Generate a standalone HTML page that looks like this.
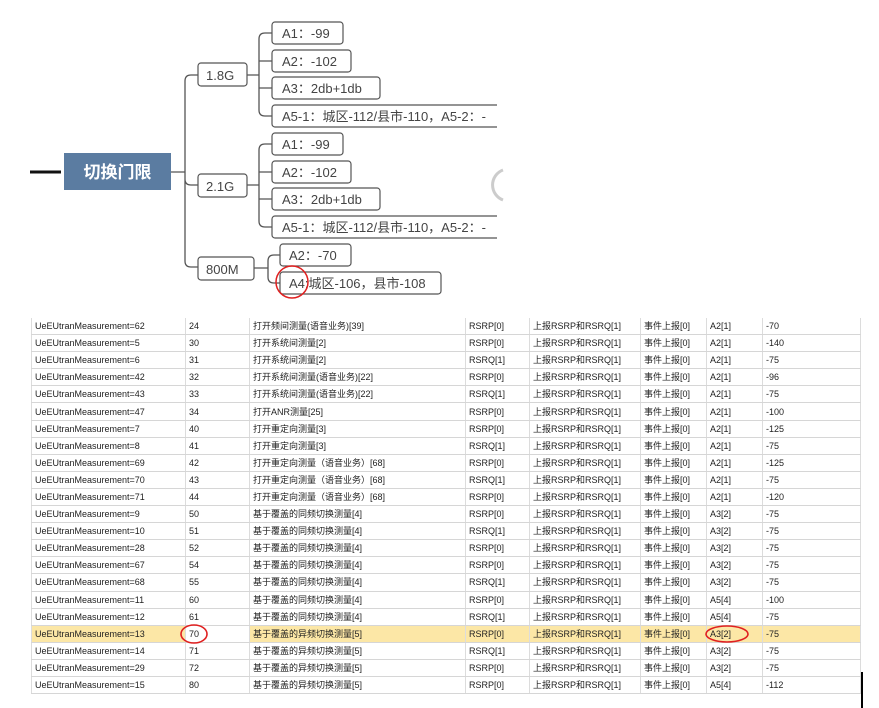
<!DOCTYPE html>
<html><head><meta charset="utf-8">
<style>
html,body{margin:0;padding:0;background:#fff;width:879px;height:708px;overflow:hidden;position:relative;font-family:"Liberation Sans","Noto Sans CJK SC",sans-serif;}
svg text{font-family:"Liberation Sans","Noto Sans CJK SC",sans-serif;}
table{position:absolute;left:31px;top:318px;border-collapse:collapse;table-layout:fixed;font-size:9px;color:#222;}
td{height:16.1px;padding:0 0 0 3px;border-right:1px solid #dcdcdc;border-bottom:1px solid #d6d6d6;white-space:nowrap;overflow:hidden;line-height:16px;}
tr.hl td{background:#fce7a6;}
td:first-child{border-left:1px solid #dcdcdc;}
</style></head><body>
<svg width="879" height="310" style="position:absolute;left:0;top:0">
<g fill="none" stroke="#555" stroke-width="1.3">
<line x1="30" y1="172" x2="61" y2="172" stroke="#111" stroke-width="3"/>
<path d="M171 172 H185 M185 81 Q185 75 191 75 H198 M185 81 V261 Q185 267 191 267 H198 M185 179 Q185 185 191 185 H198"/>
<path d="M247 75 H259 M259 39 Q259 33 265 33 H272 M259 39 V110 Q259 116 265 116 H272 M259 61 H272 M259 88 H272"/>
<path d="M247 185 H259 M259 150 Q259 144 265 144 H272 M259 150 V221 Q259 227 265 227 H272 M259 172 H272 M259 199 H272"/>
<path d="M254 268 H268 M268 261 Q268 255 274 255 H280 M268 261 V277 Q268 283 274 283 H280"/>
</g>
<rect x="64" y="153" width="107" height="37" fill="#5b7ca1"/>
<text x="117.5" y="178" fill="#fff" font-size="17" font-weight="bold" text-anchor="middle">切换门限</text>
<g fill="#fff" stroke="#555" stroke-width="1.2">
<rect x="198" y="63" width="49" height="23" rx="3"/>
<rect x="198" y="174" width="49" height="23" rx="3"/>
<rect x="198" y="257" width="56" height="23" rx="3"/>
<rect x="272" y="22" width="71" height="22" rx="3"/>
<rect x="272" y="50" width="79" height="22" rx="3"/>
<rect x="272" y="77" width="108" height="22" rx="3"/>
<rect x="272" y="105" width="240" height="22" rx="3"/>
<rect x="272" y="133" width="71" height="22" rx="3"/>
<rect x="272" y="161" width="79" height="22" rx="3"/>
<rect x="272" y="188" width="108" height="22" rx="3"/>
<rect x="272" y="216" width="240" height="22" rx="3"/>
<rect x="280" y="244" width="71" height="22" rx="3"/>
<rect x="280" y="272" width="161" height="22" rx="3"/>
</g>
<rect x="497" y="100" width="20" height="145" fill="#fff"/>
<path d="M503 170 A16 16 0 0 0 503 200" stroke="#ccc" stroke-width="3" fill="none"/>
<g fill="#444" font-size="13">
<text x="206" y="80">1.8G</text>
<text x="206" y="191">2.1G</text>
<text x="206" y="274">800M</text>
<text x="282" y="38">A1：-99</text>
<text x="282" y="66">A2：-102</text>
<text x="282" y="93">A3：2db+1db</text>
<text x="282" y="121">A5-1：城区-112/县市-110，A5-2：-</text>
<text x="282" y="149">A1：-99</text>
<text x="282" y="177">A2：-102</text>
<text x="282" y="204">A3：2db+1db</text>
<text x="282" y="232">A5-1：城区-112/县市-110，A5-2：-</text>
<text x="289" y="260">A2：-70</text>
<text x="289" y="288">A4:城区-106，县市-108</text>
</g>
<rect x="497" y="100" width="30" height="30" fill="#fff"/>
<rect x="497" y="212" width="30" height="30" fill="#fff"/>
<circle cx="292" cy="282" r="16" fill="none" stroke="#e02020" stroke-width="1.5"/>
</svg>
<table>
<colgroup><col style="width:154px"><col style="width:64px"><col style="width:216px"><col style="width:64px"><col style="width:111px"><col style="width:66px"><col style="width:56px"><col style="width:98px"></colgroup>
<tr><td>UeEUtranMeasurement=62</td><td>24</td><td>打开频间测量(语音业务)[39]</td><td>RSRP[0]</td><td>上报RSRP和RSRQ[1]</td><td>事件上报[0]</td><td>A2[1]</td><td>-70</td></tr>
<tr><td>UeEUtranMeasurement=5</td><td>30</td><td>打开系统间测量[2]</td><td>RSRP[0]</td><td>上报RSRP和RSRQ[1]</td><td>事件上报[0]</td><td>A2[1]</td><td>-140</td></tr>
<tr><td>UeEUtranMeasurement=6</td><td>31</td><td>打开系统间测量[2]</td><td>RSRQ[1]</td><td>上报RSRP和RSRQ[1]</td><td>事件上报[0]</td><td>A2[1]</td><td>-75</td></tr>
<tr><td>UeEUtranMeasurement=42</td><td>32</td><td>打开系统间测量(语音业务)[22]</td><td>RSRP[0]</td><td>上报RSRP和RSRQ[1]</td><td>事件上报[0]</td><td>A2[1]</td><td>-96</td></tr>
<tr><td>UeEUtranMeasurement=43</td><td>33</td><td>打开系统间测量(语音业务)[22]</td><td>RSRQ[1]</td><td>上报RSRP和RSRQ[1]</td><td>事件上报[0]</td><td>A2[1]</td><td>-75</td></tr>
<tr><td>UeEUtranMeasurement=47</td><td>34</td><td>打开ANR测量[25]</td><td>RSRP[0]</td><td>上报RSRP和RSRQ[1]</td><td>事件上报[0]</td><td>A2[1]</td><td>-100</td></tr>
<tr><td>UeEUtranMeasurement=7</td><td>40</td><td>打开重定向测量[3]</td><td>RSRP[0]</td><td>上报RSRP和RSRQ[1]</td><td>事件上报[0]</td><td>A2[1]</td><td>-125</td></tr>
<tr><td>UeEUtranMeasurement=8</td><td>41</td><td>打开重定向测量[3]</td><td>RSRQ[1]</td><td>上报RSRP和RSRQ[1]</td><td>事件上报[0]</td><td>A2[1]</td><td>-75</td></tr>
<tr><td>UeEUtranMeasurement=69</td><td>42</td><td>打开重定向测量（语音业务）[68]</td><td>RSRP[0]</td><td>上报RSRP和RSRQ[1]</td><td>事件上报[0]</td><td>A2[1]</td><td>-125</td></tr>
<tr><td>UeEUtranMeasurement=70</td><td>43</td><td>打开重定向测量（语音业务）[68]</td><td>RSRQ[1]</td><td>上报RSRP和RSRQ[1]</td><td>事件上报[0]</td><td>A2[1]</td><td>-75</td></tr>
<tr><td>UeEUtranMeasurement=71</td><td>44</td><td>打开重定向测量（语音业务）[68]</td><td>RSRP[0]</td><td>上报RSRP和RSRQ[1]</td><td>事件上报[0]</td><td>A2[1]</td><td>-120</td></tr>
<tr><td>UeEUtranMeasurement=9</td><td>50</td><td>基于覆盖的同频切换测量[4]</td><td>RSRP[0]</td><td>上报RSRP和RSRQ[1]</td><td>事件上报[0]</td><td>A3[2]</td><td>-75</td></tr>
<tr><td>UeEUtranMeasurement=10</td><td>51</td><td>基于覆盖的同频切换测量[4]</td><td>RSRQ[1]</td><td>上报RSRP和RSRQ[1]</td><td>事件上报[0]</td><td>A3[2]</td><td>-75</td></tr>
<tr><td>UeEUtranMeasurement=28</td><td>52</td><td>基于覆盖的同频切换测量[4]</td><td>RSRP[0]</td><td>上报RSRP和RSRQ[1]</td><td>事件上报[0]</td><td>A3[2]</td><td>-75</td></tr>
<tr><td>UeEUtranMeasurement=67</td><td>54</td><td>基于覆盖的同频切换测量[4]</td><td>RSRP[0]</td><td>上报RSRP和RSRQ[1]</td><td>事件上报[0]</td><td>A3[2]</td><td>-75</td></tr>
<tr><td>UeEUtranMeasurement=68</td><td>55</td><td>基于覆盖的同频切换测量[4]</td><td>RSRQ[1]</td><td>上报RSRP和RSRQ[1]</td><td>事件上报[0]</td><td>A3[2]</td><td>-75</td></tr>
<tr><td>UeEUtranMeasurement=11</td><td>60</td><td>基于覆盖的同频切换测量[4]</td><td>RSRP[0]</td><td>上报RSRP和RSRQ[1]</td><td>事件上报[0]</td><td>A5[4]</td><td>-100</td></tr>
<tr><td>UeEUtranMeasurement=12</td><td>61</td><td>基于覆盖的同频切换测量[4]</td><td>RSRQ[1]</td><td>上报RSRP和RSRQ[1]</td><td>事件上报[0]</td><td>A5[4]</td><td>-75</td></tr>
<tr class="hl"><td>UeEUtranMeasurement=13</td><td style="background:#fff">70</td><td>基于覆盖的异频切换测量[5]</td><td>RSRP[0]</td><td>上报RSRP和RSRQ[1]</td><td>事件上报[0]</td><td>A3[2]</td><td>-75</td></tr>
<tr><td>UeEUtranMeasurement=14</td><td>71</td><td>基于覆盖的异频切换测量[5]</td><td>RSRQ[1]</td><td>上报RSRP和RSRQ[1]</td><td>事件上报[0]</td><td>A3[2]</td><td>-75</td></tr>
<tr><td>UeEUtranMeasurement=29</td><td>72</td><td>基于覆盖的异频切换测量[5]</td><td>RSRP[0]</td><td>上报RSRP和RSRQ[1]</td><td>事件上报[0]</td><td>A3[2]</td><td>-75</td></tr>
<tr><td>UeEUtranMeasurement=15</td><td>80</td><td>基于覆盖的异频切换测量[5]</td><td>RSRP[0]</td><td>上报RSRP和RSRQ[1]</td><td>事件上报[0]</td><td>A5[4]</td><td>-112</td></tr>
</table>
<svg width="879" height="708" style="position:absolute;left:0;top:0;pointer-events:none">
<ellipse cx="194" cy="634" rx="13" ry="9" fill="none" stroke="#e02020" stroke-width="1.6"/>
<ellipse cx="727" cy="634" rx="21" ry="8" fill="none" stroke="#e02020" stroke-width="1.6"/>
<line x1="862" y1="672" x2="862" y2="708" stroke="#000" stroke-width="2"/>
</svg>
</body></html>
